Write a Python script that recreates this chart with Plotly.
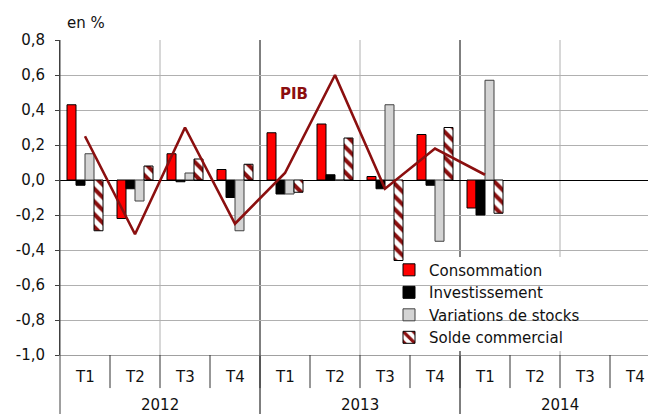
import plotly.graph_objects as go

# ---- data ----
quarters = ["T1", "T2", "T3", "T4"] * 3
years = ["2012", "2013", "2014"]
consommation = [0.43, -0.22, 0.15, 0.06, 0.27, 0.32, 0.02, 0.26, -0.16, None, None, None]
investissement = [-0.03, -0.05, -0.01, -0.10, -0.08, 0.03, -0.05, -0.03, -0.20, None, None, None]
variations_stocks = [0.15, -0.12, 0.04, -0.29, -0.08, 0.00, 0.43, -0.35, 0.57, None, None, None]
solde_commercial = [-0.29, 0.08, 0.12, 0.09, -0.07, 0.24, -0.46, 0.30, -0.19, None, None, None]
pib = [0.25, -0.31, 0.30, -0.25, 0.04, 0.60, -0.05, 0.18, 0.03]
y_tickvals = [-1.0, -0.8, -0.6, -0.4, -0.2, 0.0, 0.2, 0.4, 0.6, 0.8]
y_ticktext = ["-1,0", "-0,8", "-0,6", "-0,4", "-0,2", "0,0", "0,2", "0,4", "0,6", "0,8"]

FONT = "DejaVu Sans"
DARKRED = "#8B0F0F"
xs = list(range(len(quarters)))

fig = go.Figure()
fig.add_trace(go.Bar(x=xs, y=consommation, name="Consommation",
                     marker=dict(color="#FF0000", line=dict(color="#000000", width=1))))
fig.add_trace(go.Bar(x=xs, y=investissement, name="Investissement",
                     marker=dict(color="#000000", line=dict(color="#000000", width=1))))
fig.add_trace(go.Bar(x=xs, y=variations_stocks, name="Variations de stocks",
                     marker=dict(color="#D4D4D4", line=dict(color="#404040", width=1))))
fig.add_trace(go.Bar(x=xs, y=solde_commercial, name="Solde commercial",
                     marker=dict(color="white", line=dict(color="#000000", width=1),
                                 pattern=dict(shape="\\", fgcolor=DARKRED, bgcolor="white",
                                              size=9, solidity=0.45, fillmode="replace"))))
fig.add_trace(go.Scatter(x=xs[:len(pib)], y=pib, mode="lines", name="PIB", showlegend=False,
                         line=dict(color=DARKRED, width=2.6)))

shapes = []
# vertical gridlines every two quarters
for b in [1.5, 5.5, 9.5]:
    shapes.append(dict(type="line", xref="x", yref="paper", x0=b, x1=b, y0=0, y1=1,
                       line=dict(color="#B0B0B0", width=1), layer="below"))
# quarter dividers below the axis
for i in range(len(quarters) - 1):
    shapes.append(dict(type="line", xref="x", yref="paper", x0=i + 0.5, x1=i + 0.5,
                       y0=-0.105, y1=0, line=dict(color="#303030", width=1)))
# year separators
for b in [3.5, 7.5]:
    shapes.append(dict(type="line", xref="x", yref="paper", x0=b, x1=b, y0=-0.2, y1=1,
                       line=dict(color="#000000", width=1), layer="below"))
# left axis extended down
shapes.append(dict(type="line", xref="paper", yref="paper", x0=0, x1=0, y0=-0.2, y1=1,
                   line=dict(color="#404040", width=1)))
# white legend background (under the bars, over the grid)
shapes.append(dict(type="rect", xref="paper", yref="paper", x0=0.6, x1=1.0,
                   y0=0.013, y1=0.311, fillcolor="white", line=dict(width=0),
                   layer="between"))

annotations = []
for i, q in enumerate(quarters):
    annotations.append(dict(x=i, y=-0.07, xref="x", yref="paper", text=q, showarrow=False,
                            yanchor="middle", xanchor="center",
                            font=dict(family=FONT, size=15, color="#111")))
for j, yr in enumerate(years):
    annotations.append(dict(x=4 * j + 1.5, y=-0.16, xref="x", yref="paper", text=yr,
                            showarrow=False, yanchor="middle", xanchor="center",
                            font=dict(family=FONT, size=15, color="#111")))
annotations.append(dict(x=4.18, y=0.49, xref="x", yref="y", text="<b>PIB</b>", showarrow=False,
                        yanchor="middle", xanchor="center",
                        font=dict(family=FONT, size=15, color=DARKRED)))
annotations.append(dict(x=0.009, y=1.054, xref="paper", yref="paper", text="en %",
                        xanchor="left", yanchor="middle", showarrow=False,
                        font=dict(family=FONT, size=15, color="#111")))

fig.update_layout(
    width=648, height=414,
    margin=dict(l=60, r=0, t=40, b=59, autoexpand=False),
    paper_bgcolor="white", plot_bgcolor="white",
    barmode="group", bargap=0.28, bargroupgap=0,
    font=dict(family=FONT, size=15, color="#111"),
    showlegend=True,
    legend=dict(x=(389 - 60) / 588, y=0.322, xanchor="left", yanchor="top",
                xref="paper", yref="paper",
                bgcolor="rgba(0,0,0,0)", borderwidth=0,
                font=dict(family=FONT, size=15, color="#111"),
                itemwidth=30, traceorder="normal"),
    xaxis=dict(range=[-0.5, 11.26], showticklabels=False, showgrid=False, zeroline=False,
               showline=True, linecolor="#A0A0A0", linewidth=1, ticks=""),
    yaxis=dict(range=[-1.0, 0.8], tickvals=y_tickvals, ticktext=y_ticktext,
               showgrid=True, gridcolor="#B0B0B0", gridwidth=1,
               zeroline=True, zerolinecolor="#000000", zerolinewidth=1,
               showline=True, linecolor="#404040", linewidth=1,
               ticks="outside", ticklen=4, tickcolor="#404040",
               ticklabelstandoff=7,
               tickfont=dict(family=FONT, size=15, color="#111")),
    shapes=shapes,
    annotations=annotations,
)

fig.write_html("out.html", config={"displayModeBar": False},
               post_script="document.body.style.margin='0px';")
